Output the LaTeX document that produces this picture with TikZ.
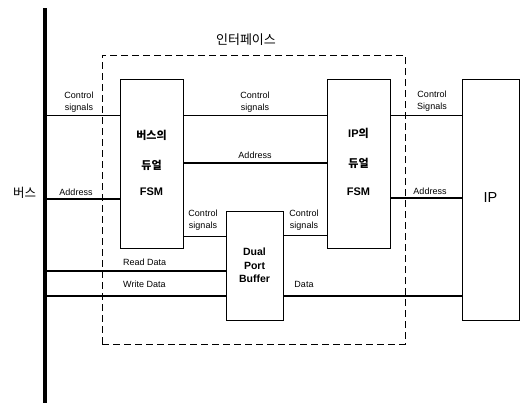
\documentclass[tikz,border=0pt]{standalone}
\usepackage{fontspec}
\setmainfont{Liberation Sans}
\newfontfamily\kr{Noto Sans CJK KR}
\begin{document}
\begin{tikzpicture}[x=1pt,y=-1pt,
  box/.style={draw, line width=0.8pt, inner sep=0pt},
  thinw/.style={line width=0.8pt},
  thickw/.style={line width=2.6pt},
  lbl/.style={font=\fontsize{9}{11.5}\selectfont, align=center, inner sep=0pt},
  boxtxt/.style={font=\fontsize{11}{13}\selectfont\bfseries, inner sep=0pt},
  krtxt/.style={font=\kr\fontsize{11}{13}\selectfont\bfseries, inner sep=0pt},
  ]
\useasboundingbox (0,0) rectangle (522,407);
\fill[white] (0,0) rectangle (522,407);
% bus
\coordinate (busT) at (45,8);
\coordinate (busB) at (45,403);
\draw[line width=3.5pt] (busT) -- (busB);
\node[font=\kr\fontsize{12.5}{14}\selectfont, inner sep=0pt] (buslbl) at (24.5,193) {버스};
% interface
\node[draw, dash pattern=on 7pt off 4pt, line width=0.9pt, minimum width=303pt, minimum height=289pt, inner sep=0pt] (iface) at (253.5,199.5) {};
\node[font=\kr\fontsize{13}{15}\selectfont, inner sep=0pt] (ifacelbl) at (246,40) {인터페이스};
% boxes
\node[box, minimum width=63pt, minimum height=169pt] (busfsm) at (151.5,163.5) {};
\node[box, minimum width=63pt, minimum height=169pt] (ipfsm) at (358.5,163.5) {};
\node[box, minimum width=57pt, minimum height=109pt] (dpb) at (254.5,265.5) {};
\node[box, minimum width=57pt, minimum height=241pt] (ip) at (490.5,199.5) {};
% box texts
\node[krtxt] (bt1) at (151.5,135) {버스의};
\node[krtxt] (bt2) at (151.5,165) {듀얼};
\node[boxtxt] (bt3) at (151.5,192) {FSM};
\node[boxtxt] (it1) at (358.5,133) {IP{\kr 의}};
\node[krtxt] (it2) at (358.5,163) {듀얼};
\node[boxtxt] (it3) at (358.5,192) {FSM};
\node[font=\fontsize{10.5}{13.5}\selectfont\bfseries, align=center, inner sep=0pt] (dt) at (254.5,265.5) {Dual\\Port\\Buffer};
\node[font=\fontsize{14.5}{16}\selectfont, inner sep=0pt] (ipt) at (490.5,198) {IP};
% row levels
\coordinate (yCS) at (0,115);
\coordinate (yAL) at (0,199);
\coordinate (yAM) at (0,163);
\coordinate (yAR) at (0,198);
\coordinate (yCL) at (0,236);
\coordinate (yCR) at (0,235);
\coordinate (yRD) at (0,271);
\coordinate (yWD) at (0,296);
% connectors
\draw[thinw] (busB |- yCS) -- (busfsm.west |- yCS);
\draw[thinw] (busfsm.east |- yCS) -- (ipfsm.west |- yCS);
\draw[thinw] (ipfsm.east |- yCS) -- (ip.west |- yCS);
\draw[thickw] (busB |- yAL) -- (busfsm.west |- yAL);
\draw[thickw] (busfsm.east |- yAM) -- (ipfsm.west |- yAM);
\draw[thickw] (ipfsm.east |- yAR) -- (ip.west |- yAR);
\draw[thinw] (busfsm.east |- yCL) -- (dpb.west |- yCL);
\draw[thinw] (dpb.east |- yCR) -- (ipfsm.west |- yCR);
\draw[thickw] (busB |- yRD) -- (dpb.west |- yRD);
\draw[thickw] (busB |- yWD) -- (dpb.west |- yWD);
\draw[thickw] (dpb.east |- yWD) -- (ip.west |- yWD);
% labels
\node[lbl] (lcs1) at (79,102) {Control\\signals};
\node[lbl] (lcs2) at (255,102) {Control\\signals};
\node[lbl] (lcs3) at (432,101) {Control\\Signals};
\node[lbl] (la1) at (76,192) {Address};
\node[lbl] (la2) at (255,155) {Address};
\node[lbl] (la3) at (430,191) {Address};
\node[lbl] (lcs4) at (203,220) {Control\\signals};
\node[lbl] (lcs5) at (304,220) {Control\\signals};
\node[lbl, anchor=west] (lrd) at (123,262) {Read Data};
\node[lbl, anchor=west] (lwd) at (123,284) {Write Data};
\node[lbl] (ld) at (304,284) {Data};
\end{tikzpicture}
\end{document}
